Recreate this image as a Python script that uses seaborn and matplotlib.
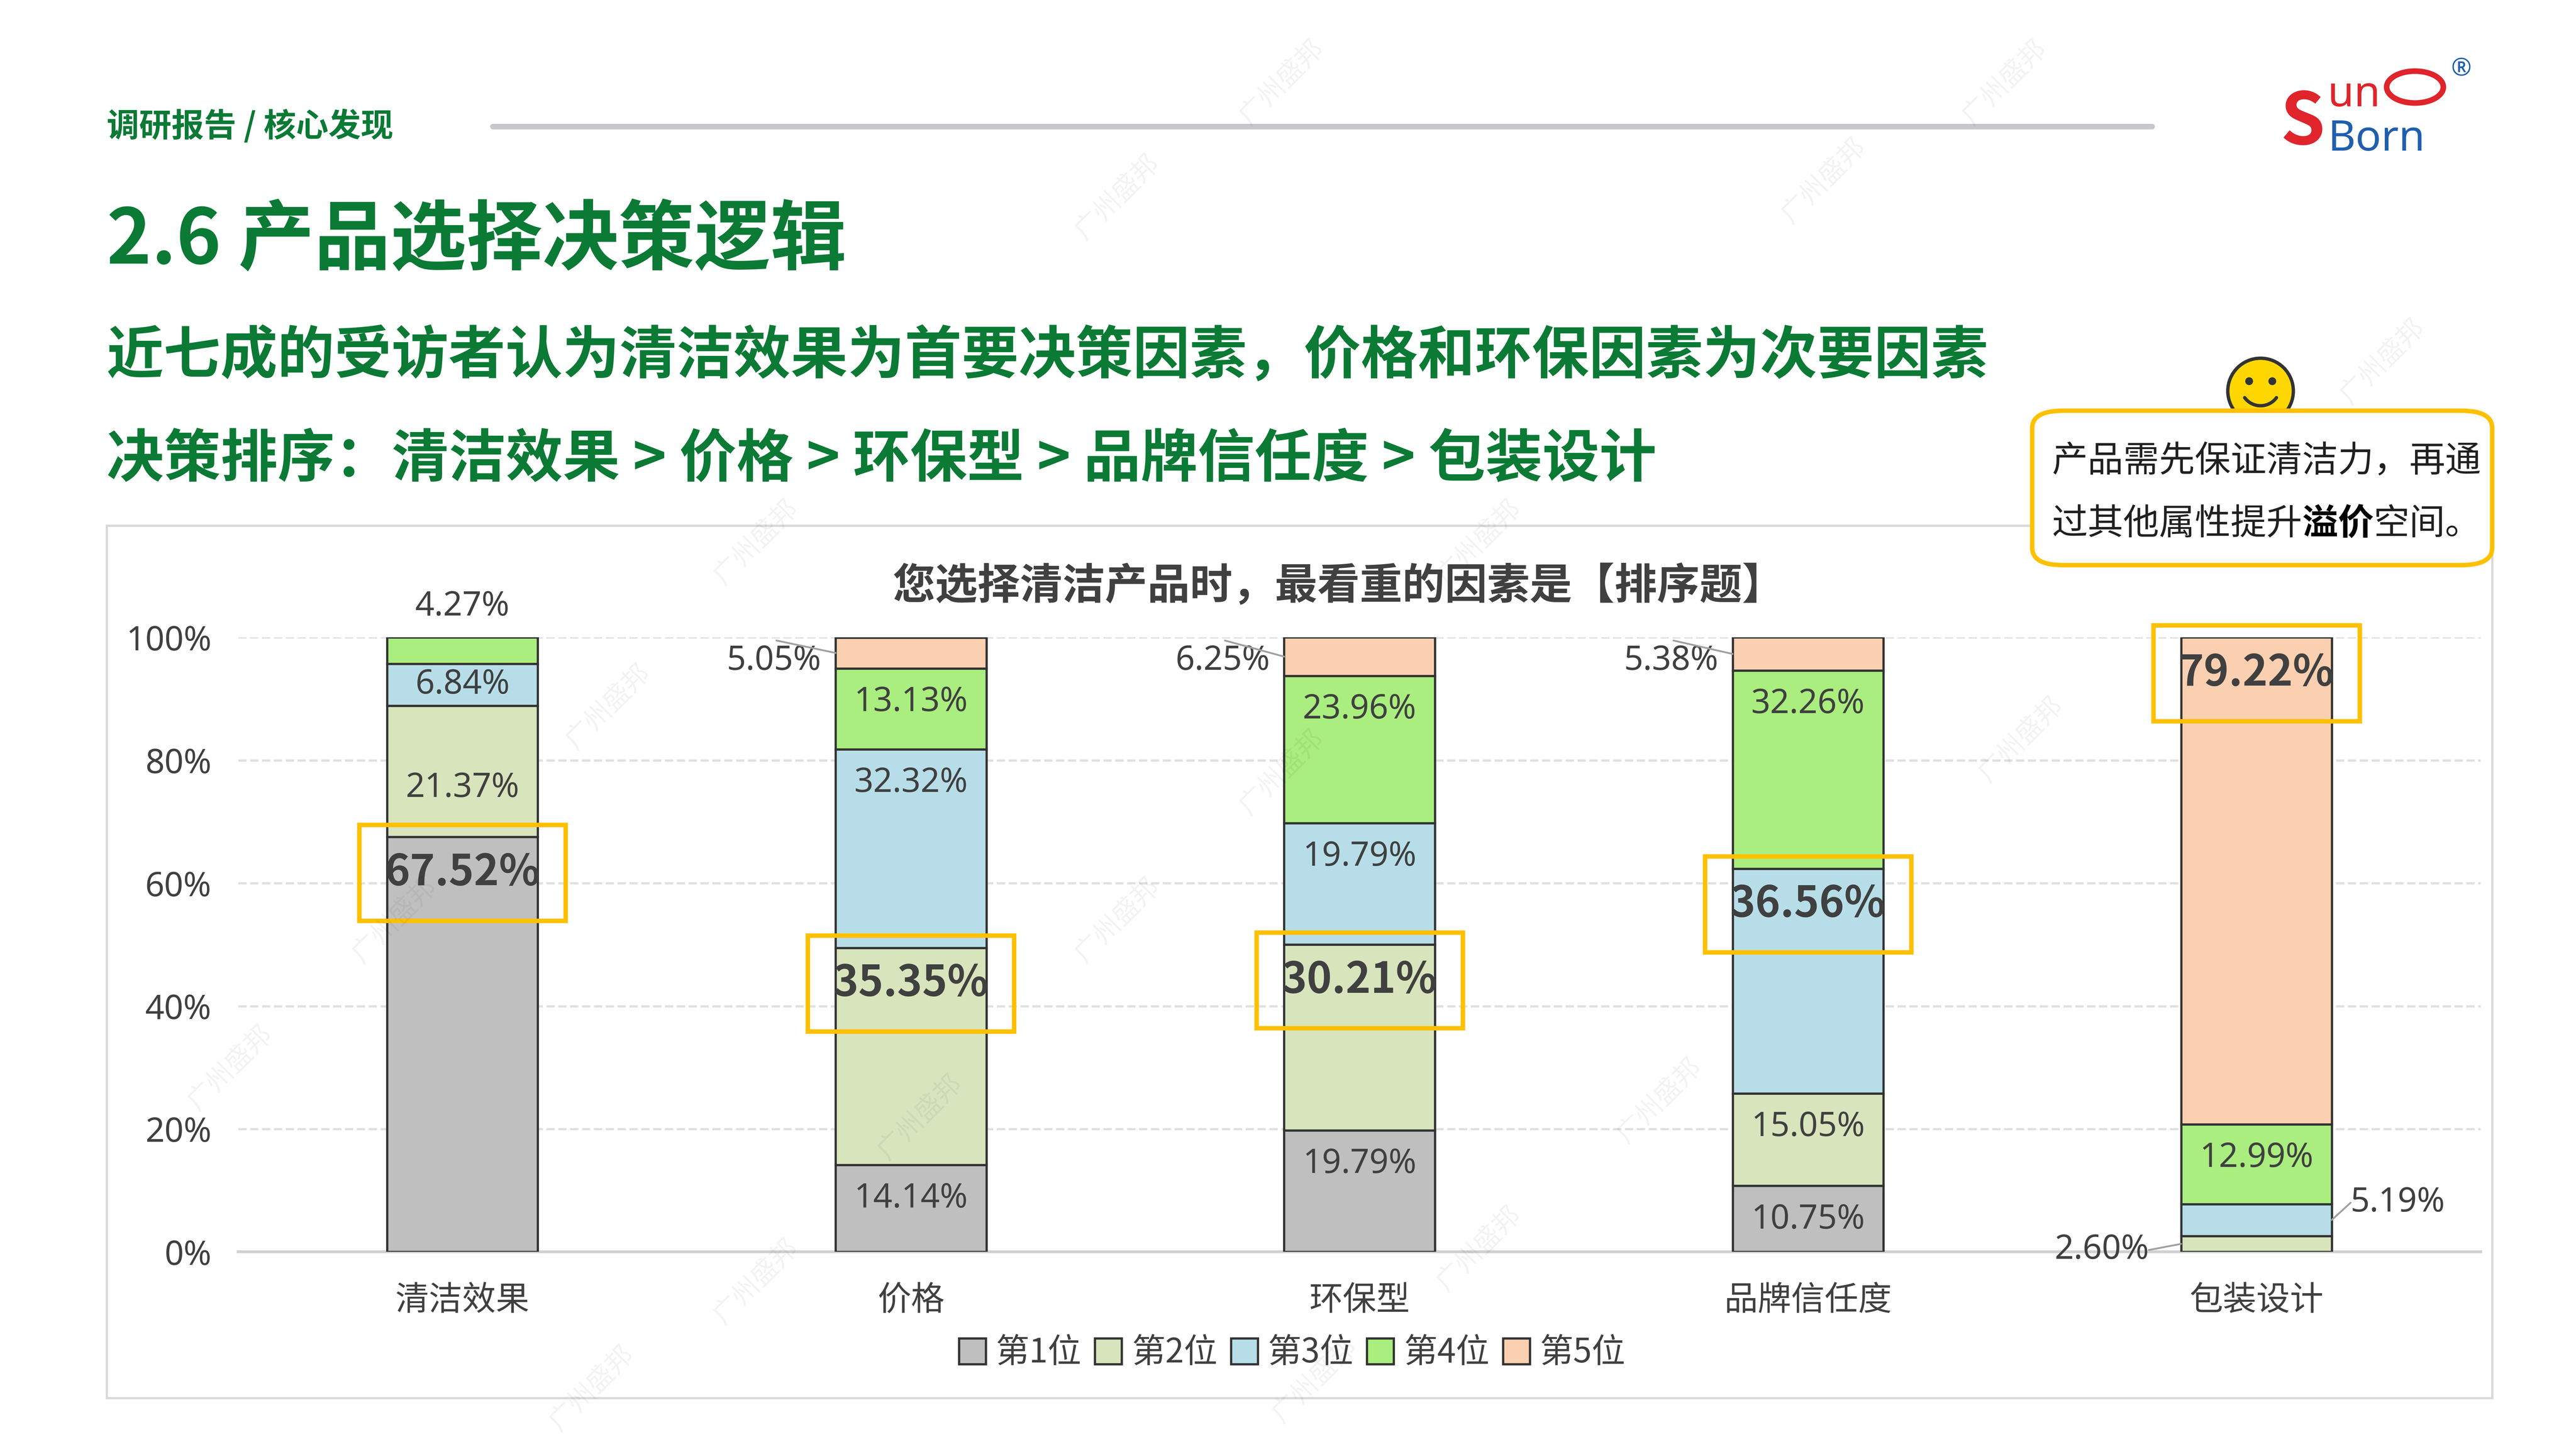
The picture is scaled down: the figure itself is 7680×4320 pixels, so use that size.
import numpy as np
import matplotlib.pyplot as plt
import seaborn as sns
from matplotlib.patches import FancyBboxPatch, Rectangle, Circle

factors = ['清洁效果', '价格', '环保型', '品牌信任度', '包装设计']
ranks = ['第1位', '第2位', '第3位', '第4位', '第5位']
rank1 = [67.52, 14.14, 19.79, 10.75, 0.0]
rank2 = [21.37, 35.35, 30.21, 15.05, 2.60]
rank3 = [6.84, 32.32, 19.79, 36.56, 5.19]
rank4 = [4.27, 13.13, 23.96, 32.26, 12.99]
rank5 = [0.0, 5.05, 6.25, 5.38, 79.22]
highlight = [0, 1, 1, 2, 4]  # which rank is boxed for each factor

colors = ['#BFBFBF', '#D8E4BC', '#B7DEE8', '#A9EE7E', '#FAD0B1']
GREEN = '#0B7A35'
NUM = ['Noto Sans', 'Noto Sans CJK SC']
NUMB = ['Noto Sans CJK SC', 'DejaVu Sans']

sns.set_theme(style='white')
plt.rcParams['font.family'] = ['Noto Sans CJK SC', 'DejaVu Sans']

W, H = 1568, 882
fig = plt.figure(figsize=(16, 9), dpi=480)
fig.patch.set_facecolor('white')


def fx(px):
    return px / W


def fy(py):
    return 1 - py / H


# faint watermarks
for wx, wy in [(680, 120), (1110, 110), (1220, 50), (780, 50), (460, 330), (900, 330),
               (1450, 220), (370, 430), (780, 470), (240, 560), (680, 560), (1230, 450),
               (140, 650), (560, 680), (1010, 670), (460, 780), (900, 760), (360, 845), (800, 840)]:
    fig.text(fx(wx), fy(wy), '广州盛邦', rotation=45, fontsize=12, color='#000000',
             alpha=0.05, ha='center', va='center')

# header
fig.text(fx(65), fy(77), '调研报告 / 核心发现', color=GREEN, fontsize=14.5, fontweight='bold', va='center')
fig.add_artist(plt.Line2D([fx(300), fx(1310)], [fy(77), fy(77)], color='#C8C8CC', lw=2.5))
fig.text(fx(65), fy(147), '2.6 产品选择决策逻辑', color=GREEN, fontsize=34, fontweight='bold', va='center')
fig.text(fx(65), fy(217), '近七成的受访者认为清洁效果为首要决策因素，价格和环保因素为次要因素',
         color=GREEN, fontsize=25.5, fontweight='bold', va='center')
fig.text(fx(65), fy(280), '决策排序：清洁效果 > 价格 > 环保型 > 品牌信任度 > 包装设计',
         color=GREEN, fontsize=25.5, fontweight='bold', va='center')

# logo
fig.text(fx(1388), fy(75), 'S', color='#E0242B', fontsize=32, fontweight='bold', va='center', family=NUMB)
fig.text(fx(1417), fy(58), 'un', color='#E0242B', fontsize=19, va='center', family=NUM)
fig.text(fx(1417), fy(85), 'Born', color='#1F5FAE', fontsize=19, va='center', family=NUM)
fig.add_artist(Circle((fx(1470), fy(53)), 0.011, transform=fig.transFigure, fill=False,
                      ec='#E0242B', lw=2.5))
fig.text(fx(1492), fy(42), '®', color='#1F5FAE', fontsize=11, va='center', family=NUM)

# chart border
fig.add_artist(Rectangle((fx(65), fy(851)), fx(1517) - fx(65), fy(320) - fy(851),
                         transform=fig.transFigure, fill=False, ec='#D9D9D9', lw=1))

# axes
ax = fig.add_axes([fx(145), fy(762), fx(1510) - fx(145), fy(388) - fy(762)])
ax.set_xlim(-0.5, 4.5)
ax.set_ylim(0, 100)
ax.patch.set_alpha(0)
ax.set_yticks(np.arange(0, 101, 20))
ax.set_yticklabels([f'{v}%' for v in range(0, 101, 20)], fontsize=15, color='#404040', family=NUM)
ax.yaxis.grid(True, color='#E0E0E0', ls='--', lw=1)
ax.set_axisbelow(True)
ax.tick_params(axis='y', length=0, pad=12)
ax.tick_params(axis='x', length=0, pad=14)
ax.set_xticks(range(5))
ax.set_xticklabels(factors, fontsize=15, color='#404040')
sns.despine(ax=ax, left=True, top=True, right=True)
ax.spines['bottom'].set_color('#D0D0D0')

series = [rank1, rank2, rank3, rank4, rank5]
x = np.arange(5)
bottom = np.zeros(5)
bw = 0.336
for k, vals in enumerate(series):
    vals = np.array(vals)
    ax.bar(x, vals, bw, bottom=bottom, color=colors[k], edgecolor='#333333', lw=1,
           label=ranks[k], zorder=3)
    for i, v in enumerate(vals):
        if v <= 0:
            continue
        top = bottom[i] + v
        if highlight[i] == k:
            yc = top - 5.8
            ax.text(i, yc, f'{v:.2f}%', ha='center', va='center', fontsize=19,
                    fontweight='bold', color='#404040', zorder=5, family=NUMB)
            ax.add_patch(Rectangle((i - 0.23, yc - 7.8), 0.46, 15.6, fill=False,
                                   ec='#FFC000', lw=2, zorder=6, clip_on=False))
        elif v >= 10 or (i == 0 and k == 2):
            if v < 10:
                yc = top - v / 2
            elif (i, k) == (0, 1):
                yc = top - 13.4
            else:
                yc = top - 5.5
            ax.text(i, yc, f'{v:.2f}%', ha='center', va='center', fontsize=15,
                    color='#404040', zorder=5, family=NUM)
    bottom += vals

# outside labels
ax.text(0, 105, '4.27%', ha='center', va='center', fontsize=15, color='#404040', family=NUM)
for i, lab in [(1, '5.05%'), (2, '6.25%'), (3, '5.38%')]:
    top = 100 - series[4][i] / 2
    ax.text(i - 0.2, 96.2, lab, ha='right', va='center', fontsize=15, color='#404040', family=NUM)
    ax.plot([i - 0.3, i - bw / 2], [99.5, top], color='#A0A0A0', lw=0.8, zorder=4)
ax.text(4 - 0.24, 0.3, '2.60%', ha='right', va='center', fontsize=15, color='#404040',
        clip_on=False, family=NUM)
ax.plot([4 - 0.24, 4 - bw / 2], [0.3, 1.3], color='#A0A0A0', lw=0.8, zorder=4)
ax.text(4 + 0.21, 8, '5.19%', ha='left', va='center', fontsize=15, color='#404040', family=NUM)
ax.plot([4 + 0.21, 4 + bw / 2], [8, 5.2], color='#A0A0A0', lw=0.8, zorder=4)

leg = ax.legend(loc='center', bbox_to_anchor=(0.47, -0.165), ncol=5, frameon=False,
                fontsize=15, handlelength=0.8, handleheight=0.8, handletextpad=0.3,
                columnspacing=0.4)
for t in leg.get_texts():
    t.set_color('#404040')

fig.text(fx(815), fy(357), '您选择清洁产品时，最看重的因素是【排序题】', ha='center', va='center',
         fontsize=19, fontweight='bold', color='#404040')

# callout
fig.add_artist(FancyBboxPatch((fx(1237), fy(344)), fx(1517) - fx(1237), fy(250) - fy(344),
                              boxstyle='round,pad=0,rounding_size=0.012', transform=fig.transFigure,
                              fill=True, fc='white', ec='#FFC000', lw=2))
fig.text(fx(1249), fy(281), '产品需先保证清洁力，再通', fontsize=16, color='#202020', va='center')
t1 = fig.text(fx(1249), fy(319), '过其他属性提升', fontsize=16, color='#202020', va='center')
r = fig.canvas.get_renderer()
bb = t1.get_window_extent(r).transformed(fig.transFigure.inverted())
t2 = fig.text(bb.x1, fy(319), '溢价', fontsize=16, color='#000000', fontweight='bold', va='center')
bb2 = t2.get_window_extent(r).transformed(fig.transFigure.inverted())
fig.text(bb2.x1, fy(319), '空间。', fontsize=16, color='#202020', va='center')

# smiley
sc = (fx(1376), fy(238))
ax_s = fig.add_axes([sc[0] - 0.014, sc[1] - 0.025, 0.028, 0.05])
ax_s.set_xlim(-1.1, 1.1)
ax_s.set_ylim(-1.1, 1.1)
ax_s.set_aspect('equal')
ax_s.axis('off')
ax_s.add_patch(Circle((0, 0), 1, fc='#FFD700', ec='#333333', lw=1.5))
ax_s.plot([-0.35, 0.35], [0.3, 0.3], 'o', ms=2.5, color='#333333')
th = np.linspace(np.pi * 1.2, np.pi * 1.8, 20)
ax_s.plot(0.6 * np.cos(th), 0.15 + 0.6 * np.sin(th), color='#333333', lw=1.5)

fig.savefig('out.png', dpi=480)
